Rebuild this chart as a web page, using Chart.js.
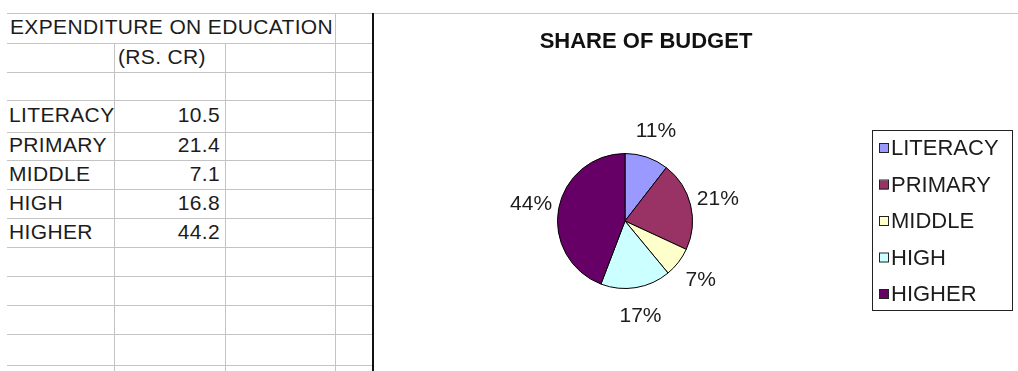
<!DOCTYPE html>
<html lang="en">
  <head>
    <meta charset="UTF-8" />
    <title>Share of Budget</title>
    <script src="https://cdn.jsdelivr.net/npm/chart.js"></script>
    <style>
      body {
        margin: 0;
        width: 1018px;
        height: 371px;
        overflow: hidden;
        background: #fff;
        font-family: "Liberation Sans", Arial, sans-serif;
        color: #1c1c1c;
        position: relative;
      }
      .hline, .vline {
        position: absolute;
        background: #c4c4c4;
      }
      .hline { height: 1px; }
      .vline { width: 1px; }
      .cell {
        position: absolute;
        font-size: 21px;
        letter-spacing: 0.35px;
        line-height: 24px;
        white-space: nowrap;
      }
      .num { text-align: right; width: 100px; }
      #sep {
        position: absolute;
        left: 372px;
        top: 13px;
        width: 2px;
        height: 358px;
        background: #111;
      }
      #topline {
        position: absolute;
        left: 374px;
        top: 13px;
        width: 644px;
        height: 1px;
        background: #c8c8c8;
      }
      #wrap {
        position: absolute;
        left: 376px;
        top: 0;
        width: 642px;
        height: 371px;
      }
    </style>
  </head>
  <body>
    <div id="sheet"></div>
    <div id="sep"></div>
    <div id="topline"></div>
    <div id="wrap"><canvas id="pieChart" width="642" height="371"></canvas></div>

    <script>
      const tableTitle = "EXPENDITURE ON EDUCATION";
      const unitLabel = "(RS. CR)";
      const categories = ["LITERACY", "PRIMARY", "MIDDLE", "HIGH", "HIGHER"];
      const spending = [10.5, 21.4, 7.1, 16.8, 44.2];
      const chartTitle = "SHARE OF BUDGET";
      const sliceColors = ["#9999ff", "#993366", "#ffffcc", "#ccffff", "#660066"];

      // spreadsheet grid on the left
      const sheet = document.getElementById("sheet");
      const rowLines = [13, 43, 72, 100, 132, 160, 189, 218, 247, 276, 305, 334, 365];
      const colLines = [114, 225, 335];

      function addDiv(cls, style, text) {
        const d = document.createElement("div");
        d.className = cls;
        Object.assign(d.style, style);
        if (text !== undefined) d.textContent = text;
        sheet.appendChild(d);
        return d;
      }

      rowLines.forEach((y) => {
        addDiv("hline", { left: "7px", top: y + "px", width: "365px" });
      });
      colLines.forEach((x) => {
        const top = x === 335 ? 13 : 43;
        addDiv("vline", { left: x + "px", top: top + "px", height: 371 - top + "px" });
      });

      function rowMid(i) {
        return (rowLines[i] + rowLines[i + 1]) / 2;
      }

      addDiv("cell", { left: "10px", top: rowMid(0) - 13 + "px" }, tableTitle);
      addDiv("cell", { left: "118px", top: rowMid(1) - 13 + "px" }, unitLabel);
      categories.forEach((c, i) => {
        const y = rowMid(i + 3) - 13;
        addDiv("cell", { left: "9px", top: y + "px" }, c);
        addDiv("cell num", { left: "120px", top: y + "px" }, spending[i].toFixed(1));
      });

      // pie chart
      const total = spending.reduce((a, b) => a + b, 0);
      const font = '21px "Liberation Sans", Arial, sans-serif';

      const decorations = {
        id: "decorations",
        afterDraw(chart) {
          const ctx = chart.ctx;
          ctx.save();
          ctx.fillStyle = "#111";
          ctx.font = 'bold 22px "Liberation Sans", Arial, sans-serif';
          ctx.textAlign = "center";
          ctx.textBaseline = "middle";
          ctx.fillText(chartTitle, 270, 42);

          // percentage labels outside slices
          ctx.font = font;
          ctx.fillStyle = "#1c1c1c";
          chart.getDatasetMeta(0).data.forEach((arc, i) => {
            const mid = (arc.startAngle + arc.endAngle) / 2;
            const r = arc.outerRadius + 28;
            const pct = Math.round((spending[i] / total) * 100) + "%";
            ctx.fillText(pct, arc.x + Math.cos(mid) * r, arc.y + Math.sin(mid) * r + 1);
          });

          // legend box
          const bx = 496, by = 130, bw = 140, bh = 180;
          ctx.strokeStyle = "#222";
          ctx.lineWidth = 1;
          ctx.strokeRect(bx + 0.5, by + 0.5, bw, bh);
          ctx.textAlign = "left";
          ctx.font = '22px "Liberation Sans", Arial, sans-serif';
          categories.forEach((c, i) => {
            const y = 148 + i * 36.5;
            ctx.fillStyle = sliceColors[i];
            ctx.fillRect(503, y - 4, 9, 9);
            ctx.strokeStyle = "#222";
            ctx.strokeRect(503.5, y - 4.5, 9, 9);
            ctx.fillStyle = "#1c1c1c";
            ctx.fillText(c, 515, y + 1);
          });
          ctx.restore();
        },
      };

      new Chart(document.getElementById("pieChart"), {
        type: "pie",
        data: {
          labels: categories,
          datasets: [
            {
              data: spending,
              backgroundColor: sliceColors,
              borderColor: "#000",
              borderWidth: 1,
            },
          ],
        },
        options: {
          responsive: false,
          animation: false,
          layout: { padding: { left: 181, right: 325, top: 153, bottom: 82 } },
          plugins: {
            legend: { display: false },
            tooltip: { enabled: false },
          },
        },
        plugins: [decorations],
      });
    </script>
  </body>
</html>
